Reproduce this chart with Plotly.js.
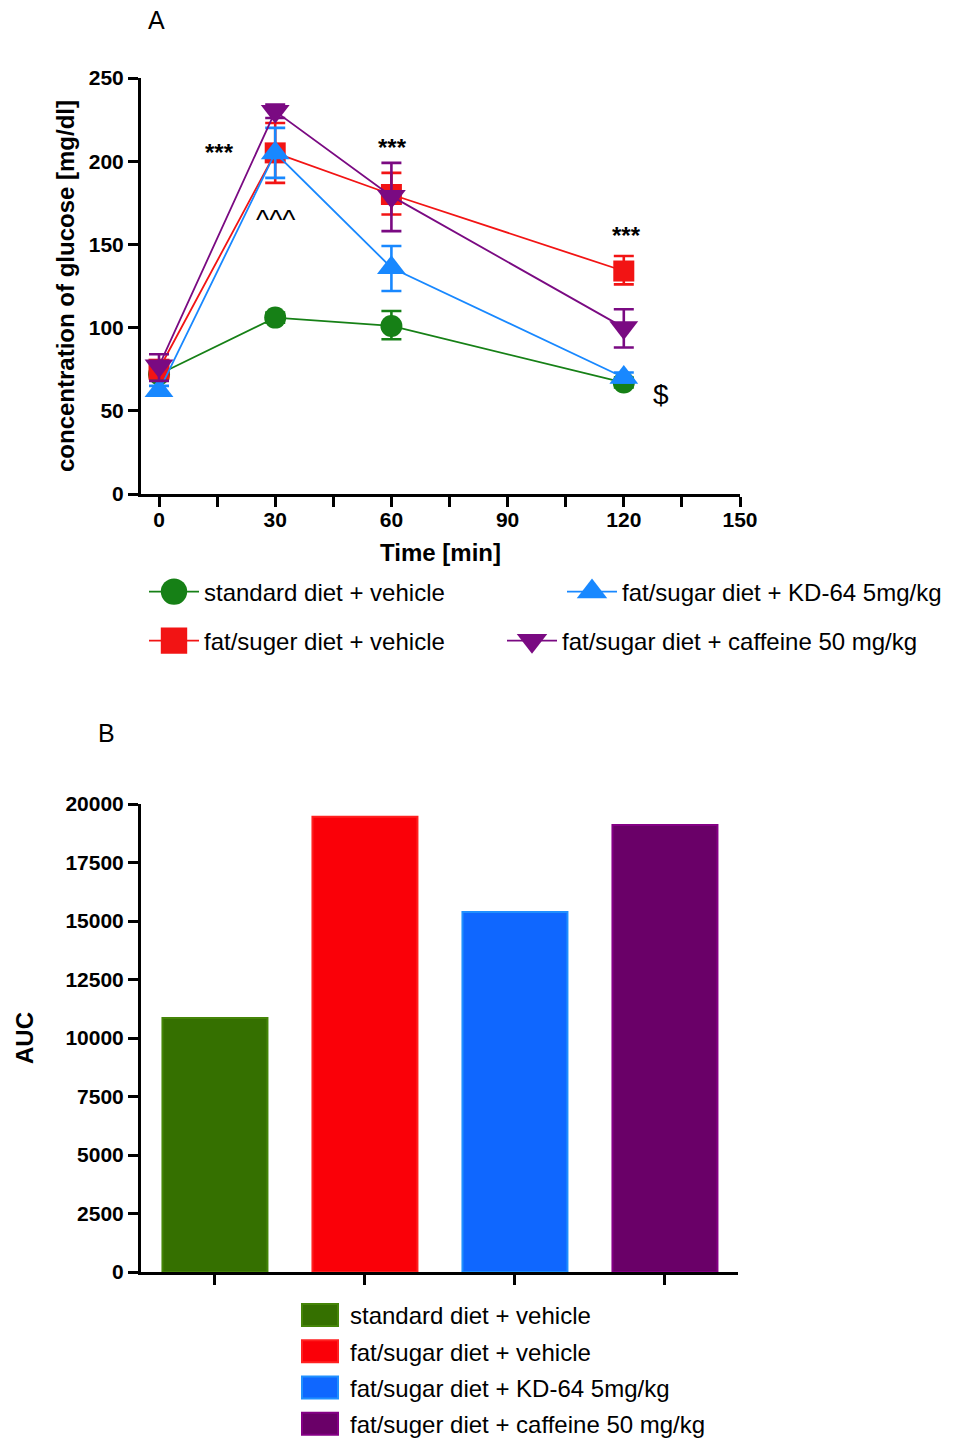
<!DOCTYPE html>
<html>
<head>
<meta charset="utf-8">
<script src="https://cdn.plot.ly/plotly-3.0.1.min.js"></script>
<style>html,body{margin:0;padding:0;background:#fff;overflow:hidden;}#chart{width:957px;height:1446px;}</style>
</head>
<body>
<div id="chart"></div>
<script>
// ---------- Panel A data ----------
const timeMin = [0, 30, 60, 120];
const seriesNames = [
  "standard diet + vehicle",
  "fat/suger diet + vehicle",
  "fat/sugar diet + KD-64 5mg/kg",
  "fat/sugar diet + caffeine 50 mg/kg"
];
const standardVehicle = [72, 106, 101, 67];
const standardErrUp = [3, 3, 9, 3];
const standardErrDown = [3, 3, 8, 3];
const fatSugarVehicle = [75, 205, 180, 134];
const fatSugarErrUp = [5, 18, 13, 9];
const fatSugarErrDown = [5, 18, 12, 8];
const kd64 = [62, 205, 136, 70];
const kd64ErrUp = [3, 15, 13, 3];
const kd64ErrDown = [3, 15, 14, 3];
const caffeine = [77, 230, 179, 100];
const caffeineErrUp = [7, 4, 20, 11];
const caffeineErrDown = [9, 4, 21, 12];
const xTicks = [0, 30, 60, 90, 120, 150];
const xMinorTicks = [15, 45, 75, 105, 135];

// ---------- Panel B data ----------
const aucGroups = [
  "standard diet + vehicle",
  "fat/sugar diet + vehicle",
  "fat/sugar diet + KD-64 5mg/kg",
  "fat/suger diet + caffeine 50 mg/kg"
];
const aucValues = [10850, 19450, 15380, 19100];

// ---------- styles ----------
const FONT = "Liberation Sans, Arial, Helvetica, sans-serif";
const lineColors = ["#168016", "#f21414", "#1888ff", "#7a0a82"];
const symbols = ["circle", "square", "triangle-up", "triangle-down"];
const markerSizes = [22, 21, 25, 25];
const barFill = ["#357000", "#fa0008", "#0f67ff", "#6a0068"];
const barLine = ["#458508", "#ff2020", "#2090ff", "#850085"];

const seriesA = [
  [standardVehicle, standardErrUp, standardErrDown],
  [fatSugarVehicle, fatSugarErrUp, fatSugarErrDown],
  [kd64, kd64ErrUp, kd64ErrDown],
  [caffeine, caffeineErrUp, caffeineErrDown]
];
const legendIds = ["legend", "legend3", "legend2", "legend4"];

const traces = [];
seriesA.forEach((s, i) => {
  traces.push({
    type: "scatter", mode: "lines+markers",
    x: timeMin, y: s[0], name: seriesNames[i],
    xaxis: "x", yaxis: "y", legend: legendIds[i],
    line: {color: lineColors[i], width: 1.8},
    marker: {symbol: symbols[i], size: markerSizes[i], color: lineColors[i]},
    error_y: {type: "data", symmetric: false, array: s[1], arrayminus: s[2],
              color: lineColors[i], thickness: 2.6, width: 10},
    cliponaxis: false
  });
});
aucGroups.forEach((g, i) => {
  traces.push({
    type: "bar", x: [g], y: [aucValues[i]], name: g,
    xaxis: "x2", yaxis: "y2", legend: "legend5", legendgroup: "g" + i,
    width: 0.7,
    marker: {color: barFill[i], line: {color: barLine[i], width: 2}}
  });
});

const W = 957, H = 1446;
const px = v => v / W;
const py = v => 1 - v / H;
const tickFont = {family: FONT, size: 21, color: "#000", weight: "bold"};
const titleFont = {family: FONT, size: 24, color: "#000", weight: "bold"};
const legFont = {family: FONT, size: 24, color: "#000"};
const axCommon = {
  showline: true, linewidth: 3, linecolor: "#000", ticks: "outside", ticklen: 10,
  tickwidth: 3, tickcolor: "#000", showgrid: false, zeroline: false, tickfont: tickFont,
  fixedrange: true
};
const legCommon = {font: legFont, bgcolor: "rgba(0,0,0,0)", borderwidth: 0,
  xanchor: "left", yanchor: "middle", itemwidth: 50};

const layout = {
  width: W, height: H,
  margin: {l: 0, r: 0, t: 0, b: 0},
  paper_bgcolor: "#fff", plot_bgcolor: "#fff",
  showlegend: true, barmode: "overlay",
  xaxis: Object.assign({}, axCommon, {
    domain: [px(141), px(740)], range: [-4.65, 150], anchor: "y",
    tickmode: "array", tickvals: xTicks, ticklabelstandoff: -5,
    minor: {tickmode: "array", tickvals: xMinorTicks, ticks: "outside", ticklen: 10, tickwidth: 3, tickcolor: "#000"},
    title: {text: "Time [min]", font: titleFont, standoff: 14}
  }),
  yaxis: Object.assign({}, axCommon, {
    domain: [py(494), py(78)], range: [0, 250], anchor: "x",
    tickmode: "array", tickvals: [0, 50, 100, 150, 200, 250],
    title: {text: "concentration of glucose [mg/dl]", font: titleFont, standoff: 8}
  }),
  xaxis2: Object.assign({}, axCommon, {
    domain: [px(141), px(738)], range: [-0.493, 3.487], anchor: "y2",
    type: "category", showticklabels: false
  }),
  yaxis2: Object.assign({}, axCommon, {
    domain: [py(1272), py(804)], range: [0, 20000], anchor: "x2",
    tickmode: "array", tickvals: [0, 2500, 5000, 7500, 10000, 12500, 15000, 17500, 20000],
    tickformat: "d",
    title: {text: "AUC", font: titleFont, standoff: 25}
  }),
  legend: Object.assign({}, legCommon, {x: px(144), y: py(592)}),
  legend2: Object.assign({}, legCommon, {x: px(562), y: py(592)}),
  legend3: Object.assign({}, legCommon, {x: px(144), y: py(641)}),
  legend4: Object.assign({}, legCommon, {x: px(502), y: py(641)}),
  legend5: Object.assign({}, legCommon, {x: px(290), y: 0, yanchor: "bottom", tracegroupgap: 2, traceorder: "grouped"}),
  annotations: [
    {text: "A", xref: "paper", yref: "paper", x: px(146), y: py(20), yanchor: "middle", showarrow: false, font: {family: FONT, size: 25, color: "#000"}},
    {text: "B", xref: "paper", yref: "paper", x: px(96), y: py(733), yanchor: "middle", showarrow: false, font: {family: FONT, size: 25, color: "#000"}},
    {text: "&&&", xref: "x", yref: "y", x: 32.8, y: 254.5, showarrow: false, font: {family: FONT, size: 27, color: "#000"}},
    {text: "***", xref: "x", yref: "y", x: 15.7, y: 205, showarrow: false, font: {family: FONT, size: 24, color: "#000", weight: "bold"}},
    {text: "***", xref: "x", yref: "y", x: 60.4, y: 208.5, showarrow: false, font: {family: FONT, size: 24, color: "#000", weight: "bold"}},
    {text: "***", xref: "x", yref: "y", x: 120.8, y: 155.6, showarrow: false, font: {family: FONT, size: 24, color: "#000", weight: "bold"}},
    {text: "^^^", xref: "x", yref: "y", x: 30.2, y: 164.7, showarrow: false, font: {family: FONT, size: 28, color: "#000"}},
    {text: "$", xref: "x", yref: "y", x: 129.6, y: 59.5, showarrow: false, font: {family: FONT, size: 28, color: "#000"}}
  ]
};

Plotly.newPlot("chart", traces, layout, {displayModeBar: false, staticPlot: true}).then(gd => {
  // enlarge legend symbols to match the reference's larger keys
  ["legend", "legend2", "legend3", "legend4"].forEach(id => {
    gd.querySelectorAll("g." + id + " g.legendpoints path.scatterpts").forEach(p => {
      const t = p.getAttribute("transform") || "";
      p.setAttribute("transform", t + " scale(1.65)");
    });
  });
  gd.querySelectorAll("g.legend5 g.legendpoints path").forEach(p => {
    p.setAttribute("d", "M18,11H-18V-11H18Z");
  });
});
</script>
</body>
</html>
